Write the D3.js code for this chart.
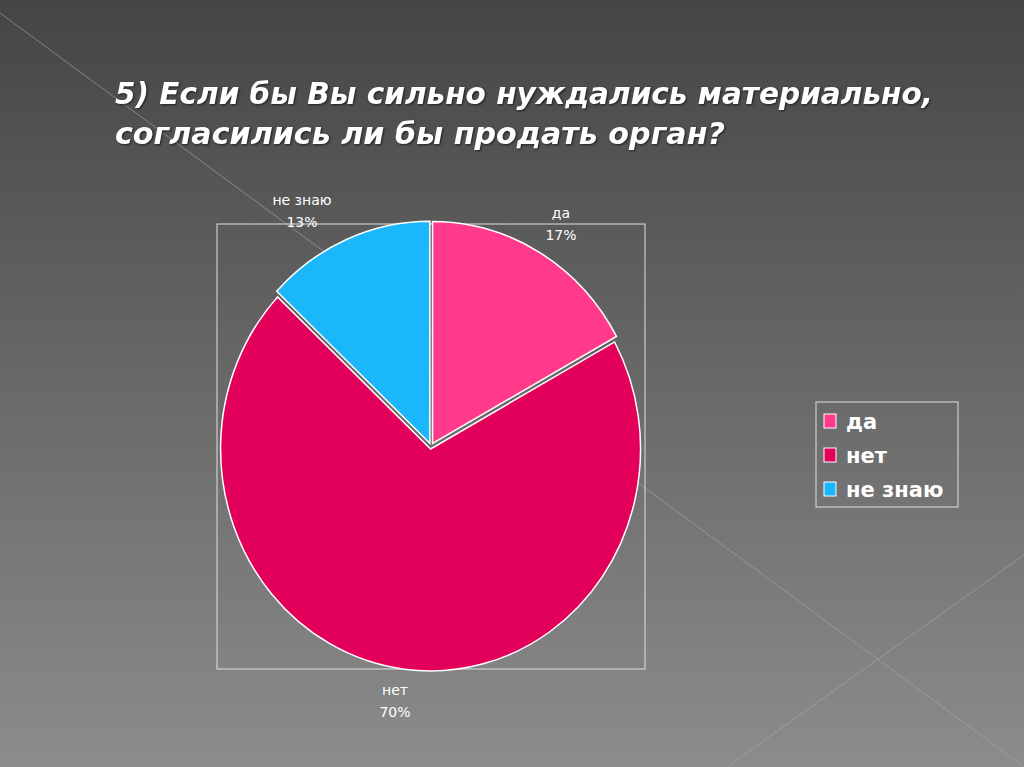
<!DOCTYPE html>
<html><head><meta charset="utf-8">
<script src="https://cdn.jsdelivr.net/npm/d3@7"></script>
<style>body{margin:0;overflow:hidden}</style></head>
<body><svg id="c" width="1024" height="767"></svg>
<script>
const categories = ["да", "нет", "не знаю"];
const values = [17, 70, 13];
const labels = ["17%", "70%", "13%"];
const colors = ["#ff3a8a", "#e2005a", "#1ab8fb"];
const title = ["5) Если бы Вы сильно нуждались материально,", "согласились ли бы продать орган?"];

const svg = d3.select("#c");
const defs = svg.append("defs");
const g = defs.append("linearGradient").attr("id","bg").attr("x1",0).attr("y1",0).attr("x2",0).attr("y2",1);
g.append("stop").attr("offset","0%").attr("stop-color","#454545");
g.append("stop").attr("offset","100%").attr("stop-color","#8c8c8c");
svg.append("rect").attr("width",1024).attr("height",767).attr("fill","url(#bg)");
svg.append("line").attr("x1",0).attr("y1",13).attr("x2",1024).attr("y2",767).attr("stroke","#a8a8a8").attr("stroke-width",1).attr("opacity",0.6);
svg.append("line").attr("x1",727).attr("y1",767).attr("x2",1024).attr("y2",555).attr("stroke","#a8a8a8").attr("stroke-width",1).attr("opacity",0.6);

svg.append("g").selectAll("text").data(title).join("text")
  .attr("x",115).attr("y",(d,i)=>104+i*40)
  .attr("font-family","DejaVu Sans").attr("font-weight","bold").attr("font-style","italic")
  .attr("font-size",30).attr("fill","#fff")
  .attr("textLength",(d,i)=>i==0?818:610).attr("lengthAdjust","spacingAndGlyphs")
  .style("filter","drop-shadow(1px 1px 1px rgba(0,0,0,0.6))")
  .text(d=>d);

svg.append("rect").attr("x",217).attr("y",224).attr("width",428).attr("height",445)
  .attr("fill","none").attr("stroke","#e0e0e0").attr("stroke-width",1);

const cx=431, cy=446, rx=210, ry=222;
const pie = d3.pie().sort(null)(values);
const arc = d3.arc().innerRadius(0).outerRadius(1);
const pg = svg.append("g").attr("transform",`translate(${cx},${cy})`);
pg.selectAll("path").data(pie).join("path")
  .attr("d",arc)
  .attr("transform",d=>{const a=(d.startAngle+d.endAngle)/2; const off=3;
     return `translate(${Math.sin(a)*off},${-Math.cos(a)*off}) scale(${rx},${ry})`;})
  .attr("fill",(d,i)=>colors[i]).attr("stroke","#fff").attr("stroke-width",1.5)
  .attr("vector-effect","non-scaling-stroke");

const lpos = [[561,218],[395,695],[302,205]];
const lg = svg.append("g").attr("font-family","DejaVu Sans").attr("font-size",14).attr("fill","#fff").attr("text-anchor","middle");
categories.forEach((c,i)=>{
  lg.append("text").attr("x",lpos[i][0]).attr("y",lpos[i][1]).text(c);
  lg.append("text").attr("x",lpos[i][0]).attr("y",lpos[i][1]+22).text(labels[i]);
});

svg.append("rect").attr("x",816).attr("y",402).attr("width",142).attr("height",105)
  .attr("fill","none").attr("stroke","#e0e0e0").attr("stroke-width",1);
const leg = svg.append("g").selectAll("g").data(categories).join("g")
  .attr("transform",(d,i)=>`translate(824,${414+i*34})`);
leg.append("rect").attr("width",12).attr("height",14).attr("fill",(d,i)=>colors[i]).attr("stroke","#fff").attr("stroke-width",1);
leg.append("text").attr("x",22).attr("y",15).attr("font-family","DejaVu Sans").attr("font-weight","bold")
  .attr("font-size",21).attr("fill","#fff").text(d=>d);
</script></body></html>
